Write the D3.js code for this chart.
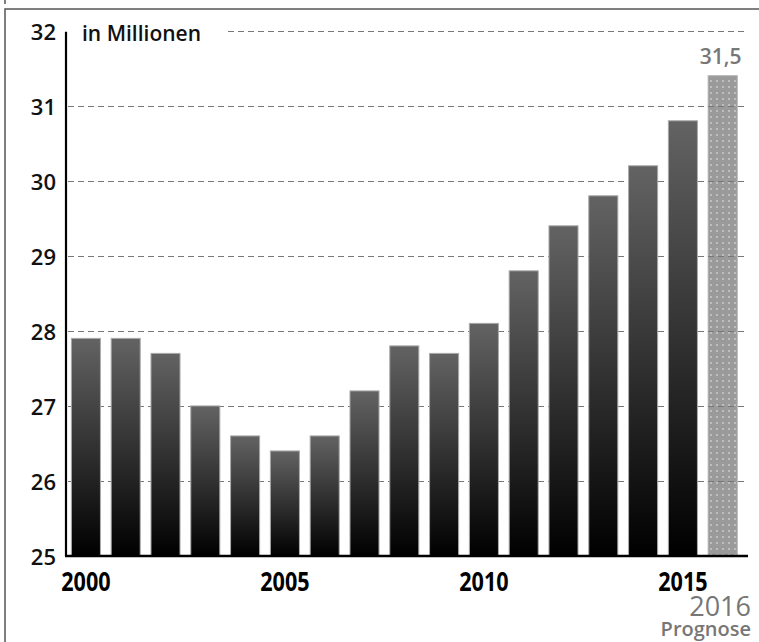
<!DOCTYPE html>
<html>
<head>
<meta charset="utf-8">
<script src="https://cdn.jsdelivr.net/npm/d3@7"></script>
<style>
  html, body { margin: 0; padding: 0; background: #fff; }
  svg { display: block; }
</style>
</head>
<body>
<svg id="chart" width="759" height="642"></svg>
<script>
// DATA
var years = ["2000", "2001", "2002", "2003", "2004", "2005", "2006", "2007", "2008",
             "2009", "2010", "2011", "2012", "2013", "2014", "2015", "2016"];
var values = [27.9, 27.9, 27.7, 27.0, 26.6, 26.4, 26.6, 27.2, 27.8,
              27.7, 28.1, 28.8, 29.4, 29.8, 30.2, 30.8, 31.4];
var yTicks = [25, 26, 27, 28, 29, 30, 31, 32];
var xTicks = ["2000", "2005", "2010", "2015"];
var forecastYear = "2016";
var forecastLabel = "31,5";
var unitLabel = "in Millionen";
var forecastNote = "Prognose";

// CONSTANTS
var LEFT = 66;
var RIGHT = 748;
var BOTTOM = 556;
var TOP = 30.7;
var GRID = "#777";
var FORECAST = "#777";
var NUM_FONT = "'Open Sans', 'Noto Sans', sans-serif";
var SQUEEZE = 0.8; // condensed look for the year labels

function main() {
    var svg = d3.select("#chart");

    var x = d3.scaleBand()
        .domain(years)
        .range([LEFT, 742.6])
        .paddingInner(0.27)
        .paddingOuter(0.135);

    var y = d3.scaleLinear()
        .domain([25, 32])
        .range([BOTTOM, TOP]);

    var defs = svg.append("defs");
    var grad = defs.append("linearGradient")
        .attr("id", "barGrad")
        .attr("x1", 0).attr("y1", 0)
        .attr("x2", 0).attr("y2", 1);
    grad.append("stop").attr("offset", "0%").attr("stop-color", "#636363");
    grad.append("stop").attr("offset", "100%").attr("stop-color", "#000");

    var pat = defs.append("pattern")
        .attr("id", "dots")
        .attr("patternUnits", "userSpaceOnUse")
        .attr("width", 6)
        .attr("height", 6);
    pat.append("rect")
        .attr("width", 6).attr("height", 6)
        .attr("fill", "#9a9a9a");
    pat.append("circle")
        .attr("cx", 3).attr("cy", 3).attr("r", 0.9)
        .attr("fill", "#cfcfcf");

    // frame
    svg.append("path")
        .attr("d", "M5,642 L5,9 L759,9")
        .attr("fill", "none")
        .attr("stroke", "#555")
        .attr("stroke-width", 1.5);
    svg.append("line")
        .attr("x1", 5).attr("y1", 0)
        .attr("x2", 5).attr("y2", 4)
        .attr("stroke", "#555")
        .attr("stroke-width", 1.5);

    var data = years.map(function(d, i) { return {year: d, value: values[i]}; });

    // forecast bar (under the grid)
    var fc = data.filter(function(d) { return d.year === forecastYear; });
    svg.append("g").selectAll("rect")
        .data(fc)
        .join("rect")
        .attr("x", function(d) { return x(d.year); })
        .attr("y", function(d) { return y(d.value); })
        .attr("width", x.bandwidth())
        .attr("height", function(d) { return BOTTOM - y(d.value); })
        .attr("fill", "url(#dots)")
        .attr("stroke", "#b0b0b0")
        .attr("stroke-width", 1);

    // grid
    svg.append("g").selectAll("line")
        .data(yTicks.filter(function(t) { return t > 25; }))
        .join("line")
        .attr("x1", function(t) { return t === 32 ? 228 : LEFT + 2; })
        .attr("x2", RIGHT)
        .attr("y1", function(t) { return Math.round(y(t)) + 0.5; })
        .attr("y2", function(t) { return Math.round(y(t)) + 0.5; })
        .attr("stroke", GRID)
        .attr("stroke-width", 1)
        .attr("stroke-dasharray", "6,4");

    // bars
    svg.append("g").selectAll("rect")
        .data(data.filter(function(d) { return d.year !== forecastYear; }))
        .join("rect")
        .attr("x", function(d) { return x(d.year); })
        .attr("y", function(d) { return y(d.value); })
        .attr("width", x.bandwidth())
        .attr("height", function(d) { return BOTTOM - y(d.value); })
        .attr("fill", "url(#barGrad)")
        .attr("stroke", "#aaa")
        .attr("stroke-width", 1);

    // axes
    var yAxis = d3.axisLeft(y)
        .tickValues(yTicks)
        .tickFormat(d3.format("d"))
        .tickSize(0)
        .tickPadding(10);
    var gy = svg.append("g")
        .attr("transform", "translate(" + LEFT + ",0)")
        .call(yAxis);
    gy.select(".domain")
        .attr("d", "M0," + (TOP + 1) + "V" + BOTTOM)
        .attr("stroke", "#000")
        .attr("stroke-width", 2.2);
    gy.selectAll(".tick text")
        .attr("dy", "0.38em")
        .attr("fill", "#111")
        .style("font-family", NUM_FONT)
        .style("font-weight", 600)
        .style("font-size", "22px");

    svg.append("line")
        .attr("x1", LEFT - 1).attr("x2", RIGHT)
        .attr("y1", BOTTOM).attr("y2", BOTTOM)
        .attr("stroke", "#000")
        .attr("stroke-width", 2.5);

    var xAxis = d3.axisBottom(x)
        .tickValues(xTicks)
        .tickSize(0)
        .tickPadding(0);
    var gx = svg.append("g")
        .attr("transform", "translate(0," + BOTTOM + ")")
        .call(xAxis);
    gx.select(".domain").remove();
    gx.selectAll(".tick text")
        .attr("y", 35)
        .attr("dy", 0)
        .attr("transform", "scale(" + SQUEEZE + ",1)")
        .attr("fill", "#000")
        .style("font-family", NUM_FONT)
        .style("font-weight", 700)
        .style("font-size", "27px");

    // labels
    svg.append("text")
        .attr("x", 82)
        .attr("y", 41)
        .attr("fill", "#111")
        .style("font-family", NUM_FONT)
        .style("font-weight", 600)
        .style("font-size", "21px")
        .text(unitLabel);

    svg.append("text")
        .attr("x", x(forecastYear) + x.bandwidth() / 2 - 2)
        .attr("y", 64)
        .attr("text-anchor", "middle")
        .attr("fill", FORECAST)
        .style("font-family", NUM_FONT)
        .style("font-weight", 600)
        .style("font-size", "21px")
        .text(forecastLabel);

    svg.append("text")
        .attr("x", 751)
        .attr("y", 616)
        .attr("text-anchor", "end")
        .attr("fill", FORECAST)
        .style("font-family", NUM_FONT)
        .style("font-weight", 500)
        .style("font-size", "27px")
        .text(forecastYear);

    svg.append("text")
        .attr("x", 751)
        .attr("y", 636)
        .attr("text-anchor", "end")
        .attr("fill", FORECAST)
        .style("font-family", NUM_FONT)
        .style("font-weight", 600)
        .style("font-size", "20px")
        .text(forecastNote);
}

main();
</script>
</body>
</html>
